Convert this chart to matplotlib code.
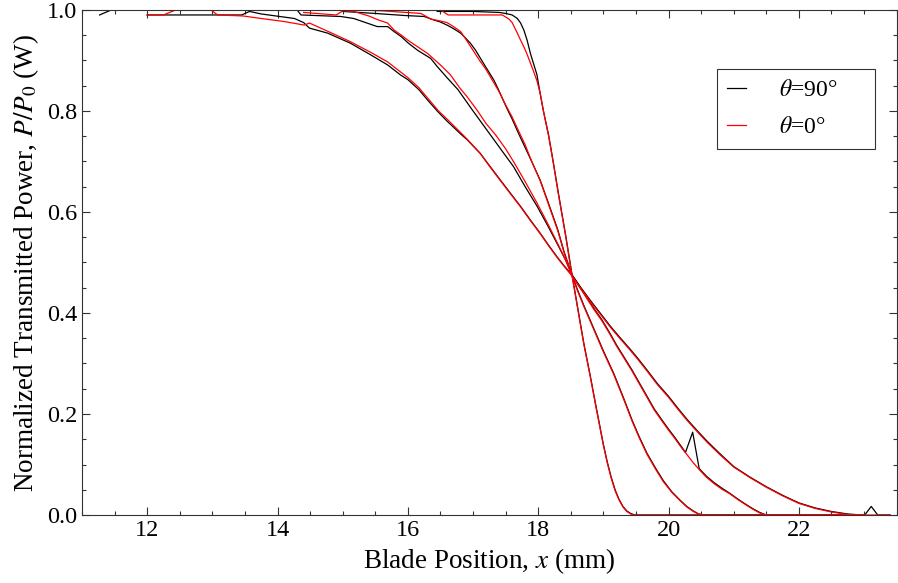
"""Knife-edge scans: normalized transmitted power vs blade position."""

from matplotlib import pyplot
from matplotlib.ticker import MultipleLocator

# theta = 90 deg (black), four beam widths a (narrowest) .. d (widest)
x_90a = [16.45, 17.0, 17.4, 17.5, 17.6, 17.68, 17.73, 17.78, 17.83, 17.88,
         17.93, 17.98, 18.02, 18.08, 18.16, 18.23, 18.31, 18.42, 18.52, 18.6,
         18.7, 18.8, 18.88, 18.94, 19.0, 19.06, 19.12, 19.18, 19.24, 19.3,
         19.36, 19.42, 19.48, 21.0, 23.0]
y_90a = [0.997, 0.997, 0.995, 0.993, 0.99, 0.983, 0.974, 0.96, 0.94, 0.914,
         0.893, 0.872, 0.842, 0.8, 0.752, 0.7, 0.637, 0.555, 0.475, 0.415,
         0.34, 0.275, 0.22, 0.18, 0.14, 0.105, 0.075, 0.05, 0.031, 0.017,
         0.008, 0.003, 0.0, 0.0, 0.0]

x_90b = [15.0, 15.5, 15.94, 16.25, 16.4, 16.5, 16.6, 16.7, 16.81, 16.88,
         16.96, 17.04, 17.11, 17.2, 17.32, 17.38, 17.45, 17.52, 17.6, 17.7,
         17.78, 17.9, 18.03, 18.15, 18.3, 18.4, 18.52, 18.6, 18.7, 18.8,
         18.9, 19.0, 19.16, 19.3, 19.44, 19.55, 19.67, 19.8, 19.92, 20.05,
         20.18, 20.28, 20.38, 20.46, 20.55, 21.5, 23.0]
y_90b = [0.997, 0.993, 0.989, 0.987, 0.98, 0.976, 0.97, 0.963, 0.954, 0.945,
         0.934, 0.92, 0.905, 0.886, 0.861, 0.845, 0.825, 0.805, 0.784, 0.755,
         0.733, 0.7, 0.663, 0.62, 0.565, 0.52, 0.475, 0.447, 0.415, 0.385,
         0.355, 0.325, 0.28, 0.235, 0.188, 0.155, 0.122, 0.093, 0.068, 0.046,
         0.029, 0.017, 0.008, 0.002, 0.0, 0.0, 0.0]

x_90c = [11.27, 11.45, 14.3, 14.36, 14.97, 15.17, 15.35, 15.53, 15.69, 15.79,
         15.9, 16.0, 16.15, 16.35, 16.45, 16.6, 16.77, 17.0, 17.27, 17.45,
         17.62, 17.8, 17.98, 18.15, 18.3, 18.42, 18.52, 18.65, 18.75, 18.86,
         18.98, 19.1, 19.2, 19.32, 19.44, 19.55, 19.67, 19.78, 19.9, 20.0,
         20.1, 20.2, 20.26, 20.37, 20.47, 20.58, 20.7, 20.82, 20.94, 21.07,
         21.2, 21.3, 21.4, 21.5, 23.0]
y_90c = [0.99, 1.0, 1.0, 0.99, 0.987, 0.983, 0.975, 0.967, 0.967, 0.957,
         0.947, 0.935, 0.92, 0.904, 0.888, 0.866, 0.842, 0.8, 0.752, 0.72,
         0.69, 0.65, 0.612, 0.572, 0.535, 0.505, 0.475, 0.45, 0.43, 0.408,
         0.386, 0.36, 0.337, 0.312, 0.287, 0.262, 0.235, 0.21, 0.188, 0.17,
         0.153, 0.135, 0.124, 0.164, 0.092, 0.077, 0.064, 0.053, 0.043, 0.031,
         0.02, 0.012, 0.005, 0.0, 0.0]

x_90d = [12.0, 13.45, 13.57, 13.75, 14.26, 14.4, 14.49, 14.77, 15.12, 15.43,
         15.69, 15.89, 16.0, 16.17, 16.3, 16.45, 16.6, 16.83, 16.91, 17.11,
         17.25, 17.42, 17.58, 17.73, 17.88, 18.03, 18.16, 18.29, 18.4, 18.52,
         18.65, 18.8, 18.95, 19.1, 19.25, 19.4, 19.53, 19.67, 19.83, 20.0,
         20.14, 20.28, 20.44, 20.6, 20.8, 21.0, 21.25, 21.5, 21.75, 22.0,
         22.25, 22.5, 22.75, 22.98, 23.01, 23.11, 23.21, 23.4]
y_90d = [0.99, 0.99, 0.997, 0.992, 0.983, 0.975, 0.964, 0.954, 0.934, 0.911,
         0.891, 0.871, 0.862, 0.842, 0.822, 0.8, 0.78, 0.752, 0.743, 0.716,
         0.692, 0.663, 0.636, 0.611, 0.584, 0.558, 0.534, 0.511, 0.493, 0.475,
         0.451, 0.425, 0.4, 0.375, 0.352, 0.33, 0.31, 0.287, 0.26, 0.235,
         0.212, 0.19, 0.167, 0.145, 0.12, 0.096, 0.075, 0.056, 0.039, 0.024,
         0.014, 0.007, 0.002, 0.0, 0.0, 0.017, 0.0, 0.0]

# theta = 0 deg (red)
x_0a = [16.5, 16.62, 17.45, 17.55, 17.6, 17.68, 17.73, 17.78, 17.83, 17.88,
        17.93, 17.98, 18.03, 18.08, 18.16, 18.23, 18.31, 18.42, 18.52, 18.6,
        18.7, 18.8, 18.88, 18.94, 19.0, 19.06, 19.12, 19.18, 19.24, 19.3,
        19.36, 19.42, 19.47, 21.0, 23.0]
y_0a = [1.0, 0.99, 0.99, 0.982, 0.975, 0.954, 0.94, 0.927, 0.912, 0.895,
        0.878, 0.86, 0.835, 0.8, 0.75, 0.698, 0.635, 0.553, 0.473, 0.413,
        0.338, 0.273, 0.218, 0.178, 0.138, 0.103, 0.073, 0.048, 0.03, 0.016,
        0.007, 0.002, 0.0, 0.0, 0.0]

x_0b = [15.2, 15.63, 16.2, 16.35, 16.5, 16.6, 16.7, 16.81, 16.9, 17.01,
        17.1, 17.2, 17.3, 17.4, 17.5, 17.6, 17.7, 17.8, 17.9, 18.03,
        18.15, 18.3, 18.4, 18.52, 18.6, 18.7, 18.8, 18.9, 19.0, 19.16,
        19.3, 19.44, 19.55, 19.67, 19.8, 19.92, 20.05, 20.18, 20.28, 20.38,
        20.46, 20.55, 21.5, 23.0]
y_0b = [1.0, 0.998, 0.993, 0.982, 0.978, 0.975, 0.967, 0.957, 0.94, 0.918,
        0.9, 0.882, 0.86, 0.838, 0.812, 0.788, 0.76, 0.733, 0.7, 0.662,
        0.618, 0.563, 0.518, 0.473, 0.445, 0.413, 0.383, 0.353, 0.323, 0.278,
        0.233, 0.186, 0.153, 0.12, 0.091, 0.066, 0.045, 0.028, 0.016, 0.007,
        0.002, 0.0, 0.0, 0.0]

x_0c = [14.4, 14.9, 15.0, 15.17, 15.4, 15.55, 15.69, 15.79, 15.9, 16.0,
        16.15, 16.3, 16.5, 16.65, 16.8, 16.91, 17.07, 17.2, 17.35, 17.5,
        17.62, 17.8, 17.98, 18.15, 18.3, 18.42, 18.52, 18.65, 18.75, 18.86,
        18.98, 19.1, 19.2, 19.32, 19.44, 19.55, 19.67, 19.78, 19.9, 20.0,
        20.1, 20.2, 20.28, 20.37, 20.47, 20.58, 20.7, 20.82, 20.94, 21.07,
        21.2, 21.3, 21.4, 21.5, 23.0]
y_0c = [0.995, 0.99, 0.998, 0.997, 0.988, 0.98, 0.974, 0.96, 0.95, 0.94,
        0.927, 0.914, 0.891, 0.872, 0.845, 0.828, 0.8, 0.775, 0.752, 0.725,
        0.7, 0.66, 0.618, 0.576, 0.537, 0.505, 0.473, 0.448, 0.428, 0.406,
        0.384, 0.358, 0.335, 0.31, 0.285, 0.26, 0.233, 0.208, 0.186, 0.168,
        0.151, 0.133, 0.12, 0.105, 0.09, 0.075, 0.062, 0.051, 0.042, 0.03,
        0.019, 0.011, 0.004, 0.0, 0.0]

x_0d = [12.0, 12.25, 12.44, 12.98, 13.08, 13.47, 13.75, 14.1, 14.41, 14.49,
        14.8, 15.12, 15.43, 15.69, 15.89, 16.0, 16.17, 16.3, 16.47, 16.6,
        16.85, 16.91, 17.11, 17.25, 17.42, 17.58, 17.73, 17.88, 18.03, 18.16,
        18.29, 18.4, 18.52, 18.65, 18.8, 18.95, 19.1, 19.25, 19.4, 19.53,
        19.67, 19.83, 20.0, 20.14, 20.28, 20.44, 20.6, 20.8, 21.0, 21.25,
        21.5, 21.75, 22.0, 22.25, 22.5, 22.75, 22.95, 23.4]
y_0d = [0.99, 0.99, 1.0, 1.0, 0.99, 0.988, 0.983, 0.977, 0.97, 0.974,
        0.956, 0.937, 0.916, 0.897, 0.877, 0.866, 0.846, 0.826, 0.8, 0.784,
        0.752, 0.744, 0.716, 0.691, 0.662, 0.635, 0.61, 0.583, 0.557, 0.533,
        0.51, 0.492, 0.473, 0.449, 0.423, 0.398, 0.373, 0.35, 0.328, 0.308,
        0.285, 0.258, 0.233, 0.21, 0.188, 0.165, 0.143, 0.118, 0.095, 0.074,
        0.055, 0.038, 0.023, 0.013, 0.006, 0.001, 0.0, 0.0]

black_series = [(x_90a, y_90a), (x_90b, y_90b), (x_90c, y_90c), (x_90d, y_90d)]
red_series = [(x_0a, y_0a), (x_0b, y_0b), (x_0c, y_0c), (x_0d, y_0d)]

pyplot.rcParams['font.family'] = ['Liberation Serif', 'DejaVu Serif']
pyplot.rcParams['mathtext.fontset'] = 'stix'

fig = pyplot.figure(figsize=(8.98, 5.83), dpi=100)
ax = fig.add_axes([0.0913, 0.1166, 0.9072, 0.8664])

for i, (xs, ys) in enumerate(black_series):
    ax.plot(xs, ys, color='black', lw=0.9,
            label=r'$\theta$=90°' if i == 0 else None)
for i, (xs, ys) in enumerate(red_series):
    ax.plot(xs, ys, color='#ff0000', lw=0.9,
            label=r'$\theta$=0°' if i == 0 else None)

ax.set_xlim(11.0, 23.5)
ax.set_ylim(0.0, 1.0)
ax.xaxis.set_major_locator(MultipleLocator(2))
ax.xaxis.set_minor_locator(MultipleLocator(0.5))
ax.yaxis.set_major_locator(MultipleLocator(0.2))
ax.yaxis.set_minor_locator(MultipleLocator(0.05))
ax.yaxis.set_major_formatter('{x:.1f}')
ax.tick_params(which='both', direction='in', top=True, right=True,
               labelsize=17.5, width=0.8, color='#333333')
ax.tick_params(which='major', length=5.5)
ax.tick_params(which='minor', length=3)
for spine in ax.spines.values():
    spine.set_linewidth(0.8)
    spine.set_color('#333333')

ax.set_xlabel('Blade Position, $x$ (mm)', fontsize=19.5, labelpad=4)
ax.set_ylabel('Normalized Transmitted Power, $P/P_0$ (W)', fontsize=19.5,
              labelpad=4)

leg = ax.legend(loc='upper left', bbox_to_anchor=(0.779, 0.0, 0.195, 0.883),
                mode='expand', borderaxespad=0, fontsize=17, frameon=True,
                fancybox=False, edgecolor='black', handlelength=0.8,
                handletextpad=1.4, labelspacing=0.65, borderpad=0.45)
leg.get_frame().set_linewidth(0.8)

fig.savefig('out.png', dpi=100)
